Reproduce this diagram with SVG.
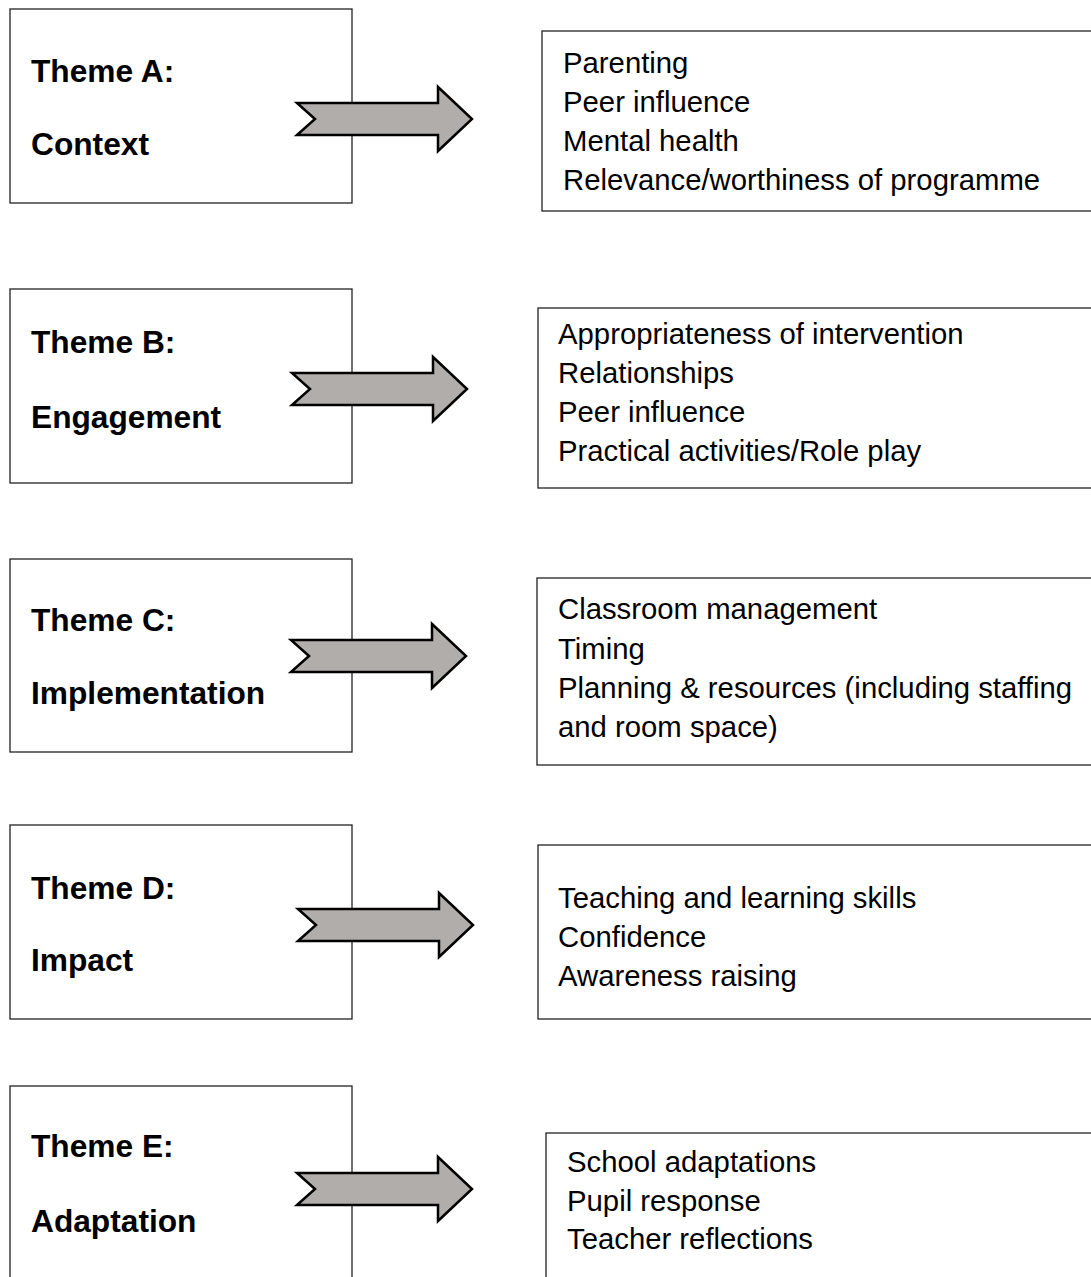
<svg xmlns="http://www.w3.org/2000/svg" width="1091" height="1277" viewBox="0 0 1091 1277">
<style>
.box{fill:#fff;stroke:#222;stroke-width:1.3}
.arrow{fill:#b1adab;stroke:#000;stroke-width:2.5;stroke-linejoin:miter}
.th{font-family:"Liberation Sans",Arial,sans-serif;font-weight:bold;font-size:31.7px;fill:#000}
.it{font-family:"Liberation Sans",Arial,sans-serif;font-size:29.3px;fill:#000}
</style>
<defs>
<path id="arr" d="M0,-16 L141,-16 L141,-32 L175,0 L141,32 L141,16 L0,16 L18,0 Z"/>
</defs>
<rect width="1091" height="1277" fill="#fff"/>

<g id="themeA">
<rect class="box" x="10" y="9" width="342" height="194"/>
<text class="th" x="31" y="82">Theme A:</text>
<text class="th" x="31" y="155">Context</text>
</g>
<g id="listA">
<rect class="box" x="542" y="31" width="560" height="180"/>
<text class="it" x="563" y="73">Parenting</text>
<text class="it" x="563" y="112">Peer influence</text>
<text class="it" x="563" y="151">Mental health</text>
<text class="it" x="563" y="190">Relevance/worthiness of programme</text>
</g>

<g id="themeB">
<rect class="box" x="10" y="289" width="342" height="194"/>
<text class="th" x="31" y="353">Theme B:</text>
<text class="th" x="31" y="428">Engagement</text>
</g>
<g id="listB">
<rect class="box" x="538" y="308" width="560" height="180"/>
<text class="it" x="558" y="344">Appropriateness of intervention</text>
<text class="it" x="558" y="383">Relationships</text>
<text class="it" x="558" y="422">Peer influence</text>
<text class="it" x="558" y="461">Practical activities/Role play</text>
</g>

<g id="themeC">
<rect class="box" x="10" y="559" width="342" height="193"/>
<text class="th" x="31" y="631">Theme C:</text>
<text class="th" x="31" y="704">Implementation</text>
</g>
<g id="listC">
<rect class="box" x="537" y="578" width="560" height="187"/>
<text class="it" x="558" y="619">Classroom management</text>
<text class="it" x="558" y="659">Timing</text>
<text class="it" x="558" y="698">Planning &amp; resources (including staffing</text>
<text class="it" x="558" y="737">and room space)</text>
</g>

<g id="themeD">
<rect class="box" x="10" y="825" width="342" height="194"/>
<text class="th" x="31" y="899">Theme D:</text>
<text class="th" x="31" y="971">Impact</text>
</g>
<g id="listD">
<rect class="box" x="538" y="845" width="560" height="174"/>
<text class="it" x="558" y="908">Teaching and learning skills</text>
<text class="it" x="558" y="947">Confidence</text>
<text class="it" x="558" y="986">Awareness raising</text>
</g>

<g id="themeE">
<rect class="box" x="10" y="1086" width="342" height="220"/>
<text class="th" x="31" y="1157">Theme E:</text>
<text class="th" x="31" y="1232">Adaptation</text>
</g>
<g id="listE">
<rect class="box" x="546" y="1133" width="560" height="180"/>
<text class="it" x="567" y="1172">School adaptations</text>
<text class="it" x="567" y="1211">Pupil response</text>
<text class="it" x="567" y="1249">Teacher reflections</text>
</g>

<g id="connectors">
<use href="#arr" class="arrow" transform="translate(297,119)"/>
<use href="#arr" class="arrow" transform="translate(292,389)"/>
<use href="#arr" class="arrow" transform="translate(291,656)"/>
<use href="#arr" class="arrow" transform="translate(298,925)"/>
<use href="#arr" class="arrow" transform="translate(297,1189)"/>
</g>
</svg>
